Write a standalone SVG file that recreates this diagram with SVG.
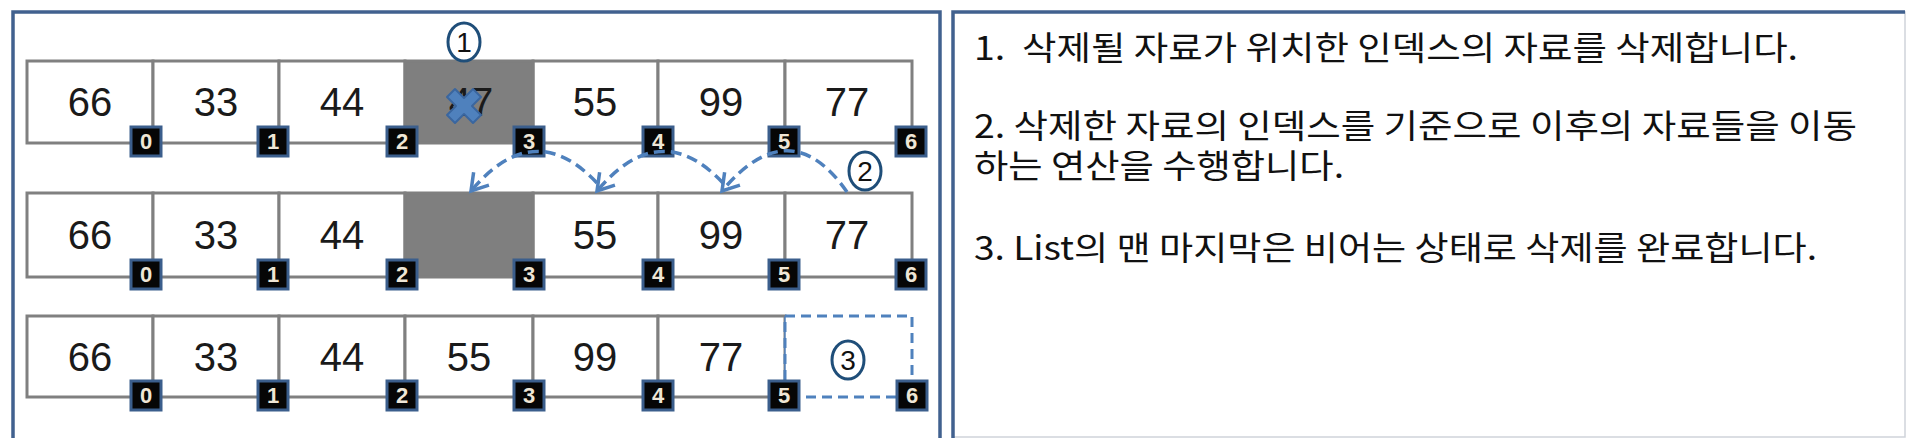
<svg xmlns="http://www.w3.org/2000/svg" width="1906" height="438" viewBox="0 0 1906 438">
<style>
.panel{fill:#fff;stroke:#41618f;stroke-width:3.5}
.cell{fill:#fff;stroke:#808080;stroke-width:3}
.gray{fill:#7f7f7f;stroke:#7f7f7f;stroke-width:3}
.num{font-family:"Liberation Sans",Arial,sans-serif;font-size:40px;fill:#1a1a1a;text-anchor:middle}
.badge rect{fill:#060606;stroke:#3b5e8c;stroke-width:3}
.badge text{font-family:"Liberation Sans",Arial,sans-serif;font-size:22px;font-weight:bold;fill:#efe6d6;text-anchor:middle}
.arc{fill:none;stroke:#4f81bd;stroke-width:3.5;stroke-dasharray:11 6}
.mark ellipse{fill:#fff;stroke:#1f4e79;stroke-width:3}
.mark text{font-family:"Liberation Sans",Arial,sans-serif;font-size:28px;fill:#111;text-anchor:middle}
.desc{font-family:"Noto Sans CJK KR","Noto Sans",sans-serif;font-size:33px;fill:#111;white-space:pre}
.dash{fill:#fff;stroke:#4f81bd;stroke-width:3;stroke-dasharray:10 6}
</style>
<defs>
<marker id="v" markerUnits="userSpaceOnUse" markerWidth="40" markerHeight="40" viewBox="-20 -20 40 40" refX="0" refY="0" orient="auto">
<path d="M -16 -10 L 0 0 L -16 10" fill="none" stroke="#4f81bd" stroke-width="3.5"/>
</marker>
</defs>
<rect width="1906" height="438" fill="#fff"/>
<g id="left-panel">
<rect class="panel" x="13" y="12" width="927" height="450"/>
</g>
<g id="right-panel">
<rect x="953" y="12" width="952" height="425" fill="#fff" stroke="#cfd3da" stroke-width="1.5"/>
<path d="M953 440 V12 H1905" fill="none" stroke="#41618f" stroke-width="3.5"/>
<text class="desc" x="974" y="60" textLength="824" lengthAdjust="spacingAndGlyphs">1.  삭제될 자료가 위치한 인덱스의 자료를 삭제합니다.</text>
<text class="desc" x="974" y="138" textLength="883" lengthAdjust="spacingAndGlyphs">2. 삭제한 자료의 인덱스를 기준으로 이후의 자료들을 이동</text>
<text class="desc" x="974" y="178" textLength="370" lengthAdjust="spacingAndGlyphs">하는 연산을 수행합니다.</text>
<text class="desc" x="974" y="260" textLength="843" lengthAdjust="spacingAndGlyphs">3. List의 맨 마지막은 비어는 상태로 삭제를 완료합니다.</text>
</g>

<g id="row1">
<g id="r1c0"><rect class="cell" x="27" y="61" width="126" height="82"/><text class="num" x="90" y="116">66</text></g>
<g id="r1c1"><rect class="cell" x="153" y="61" width="126" height="82"/><text class="num" x="216" y="116">33</text></g>
<g id="r1c2"><rect class="cell" x="279" y="61" width="126" height="82"/><text class="num" x="342" y="116">44</text></g>
<g id="r1c4"><rect class="cell" x="533" y="61" width="125" height="82"/><text class="num" x="595" y="116">55</text></g>
<g id="r1c5"><rect class="cell" x="658" y="61" width="127" height="82"/><text class="num" x="721" y="116">99</text></g>
<g id="r1c6"><rect class="cell" x="785" y="61" width="127" height="82"/><text class="num" x="847" y="116">77</text></g>
<g id="r1c3"><rect class="gray" x="405" y="61" width="128" height="82"/><text class="num" x="471" y="116">47</text>
<polygon points="-9,-17 0,-8 9,-17 17,-9 8,0 17,9 9,17 0,8 -9,17 -17,9 -8,0 -17,-9" transform="translate(464,106)" fill="#4f81bd" stroke="#3a669f" stroke-width="2" stroke-linejoin="round"/></g>
</g>

<g id="row2">
<g id="r2c0"><rect class="cell" x="27" y="193" width="126" height="84"/><text class="num" x="90" y="249">66</text></g>
<g id="r2c1"><rect class="cell" x="153" y="193" width="126" height="84"/><text class="num" x="216" y="249">33</text></g>
<g id="r2c2"><rect class="cell" x="279" y="193" width="126" height="84"/><text class="num" x="342" y="249">44</text></g>
<g id="r2c4"><rect class="cell" x="533" y="193" width="125" height="84"/><text class="num" x="595" y="249">55</text></g>
<g id="r2c5"><rect class="cell" x="658" y="193" width="127" height="84"/><text class="num" x="721" y="249">99</text></g>
<g id="r2c6"><rect class="cell" x="785" y="193" width="127" height="84"/><text class="num" x="847" y="249">77</text></g>
<g id="r2c3"><rect class="gray" x="405" y="193" width="128" height="84"/></g>
</g>

<g id="row3">
<g id="r3c0"><rect class="cell" x="27" y="316" width="126" height="81"/><text class="num" x="90" y="371">66</text></g>
<g id="r3c1"><rect class="cell" x="153" y="316" width="126" height="81"/><text class="num" x="216" y="371">33</text></g>
<g id="r3c2"><rect class="cell" x="279" y="316" width="126" height="81"/><text class="num" x="342" y="371">44</text></g>
<g id="r3c3"><rect class="cell" x="405" y="316" width="128" height="81"/><text class="num" x="469" y="371">55</text></g>
<g id="r3c4"><rect class="cell" x="533" y="316" width="125" height="81"/><text class="num" x="595" y="371">99</text></g>
<g id="r3c5"><rect class="cell" x="658" y="316" width="127" height="81"/><text class="num" x="721" y="371">77</text></g>
<g id="r3c6"><rect class="dash" x="785" y="316" width="127" height="81"/><line x1="785" y1="316" x2="785" y2="397" stroke="#4f81bd" stroke-width="1.5"/></g>
</g>

<g id="badges1" class="badge">
<rect x="131" y="127" width="30" height="29"/><text x="146" y="149">0</text>
<rect x="258" y="127" width="30" height="29"/><text x="273" y="149">1</text>
<rect x="387" y="127" width="30" height="29"/><text x="402" y="149">2</text>
<rect x="514" y="127" width="30" height="29"/><text x="529" y="149">3</text>
<rect x="643" y="127" width="30" height="29"/><text x="658" y="149">4</text>
<rect x="769" y="127" width="30" height="29"/><text x="784" y="149">5</text>
<rect x="896" y="127" width="30" height="29"/><text x="911" y="149">6</text>
</g>
<g id="badges2" class="badge">
<rect x="131" y="260" width="30" height="29"/><text x="146" y="282">0</text>
<rect x="258" y="260" width="30" height="29"/><text x="273" y="282">1</text>
<rect x="387" y="260" width="30" height="29"/><text x="402" y="282">2</text>
<rect x="514" y="260" width="30" height="29"/><text x="529" y="282">3</text>
<rect x="643" y="260" width="30" height="29"/><text x="658" y="282">4</text>
<rect x="769" y="260" width="30" height="29"/><text x="784" y="282">5</text>
<rect x="896" y="260" width="30" height="29"/><text x="911" y="282">6</text>
</g>
<g id="badges3" class="badge">
<rect x="131" y="381" width="30" height="29"/><text x="146" y="403">0</text>
<rect x="258" y="381" width="30" height="29"/><text x="273" y="403">1</text>
<rect x="387" y="381" width="30" height="29"/><text x="402" y="403">2</text>
<rect x="514" y="381" width="30" height="29"/><text x="529" y="403">3</text>
<rect x="643" y="381" width="30" height="29"/><text x="658" y="403">4</text>
<rect x="769" y="381" width="30" height="29"/><text x="784" y="403">5</text>
<rect x="897" y="381" width="30" height="29"/><text x="912" y="403">6</text>
</g>

<g id="connectors">
<path class="arc" d="M 597 183 Q 534 116 471 191" marker-end="url(#v)"/>
<path class="arc" d="M 723 183 Q 660 116 597 191" marker-end="url(#v)"/>
<path class="arc" d="M 847 192 Q 790 110 722 191" marker-end="url(#v)"/>
</g>

<g id="mark1" class="mark"><ellipse cx="464" cy="42" rx="16" ry="19"/><text x="464" y="52">1</text></g>
<g id="mark2" class="mark"><ellipse cx="865" cy="171" rx="16" ry="19"/><text x="865" y="181">2</text></g>
<g id="mark3" class="mark"><ellipse cx="848" cy="360" rx="16" ry="19"/><text x="848" y="370">3</text></g>
</svg>
